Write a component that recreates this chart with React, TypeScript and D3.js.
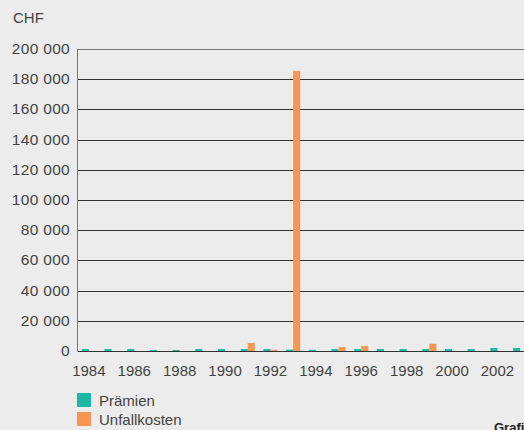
import React, { useEffect, useRef } from 'react';
import * as d3 from 'd3';

const years = [
  '1984', '1985', '1986', '1987', '1988', '1989', '1990', '1991', '1992', '1993',
  '1994', '1995', '1996', '1997', '1998', '1999', '2000', '2001', '2002', '2003',
];
const praemien = [
  1300, 1300, 1300, 700, 700, 1300, 1300, 1300, 1300, 900,
  800, 1300, 1300, 1300, 1300, 1300, 1300, 1300, 2000, 2000,
];
const unfallkosten = [
  0, 0, 0, 0, 0, 0, 0, 5300, 800, 185500,
  0, 2600, 3300, 0, 0, 4800, 0, 0, 0, 0,
];
const yTicks = [0, 20000, 40000, 60000, 80000, 100000, 120000, 140000, 160000, 180000, 200000];
const xLabels = ['1984', '1986', '1988', '1990', '1992', '1994', '1996', '1998', '2000', '2002'];
const seriesNames = ['Prämien', 'Unfallkosten'];

const width = 524;
const height = 430;
const teal = '#1bb8a8';
const orange = '#f79552';
const font = '"Liberation Sans", Arial, Helvetica, sans-serif';
const textColor = '#444';

const App = () => {
  const svgRef = useRef<SVGSVGElement | null>(null);

  useEffect(() => {
    const svg = d3.select(svgRef.current);
    svg.selectAll('*').remove();

    svg.append('rect').attr('width', width).attr('height', height).attr('fill', '#ebeceb');

    // scales
    const x = d3.scaleBand().domain(years).range([77.5, 77.5 + 20 * 22.7]).paddingInner(0.38).paddingOuter(0.19);
    const sub = d3.scaleBand().domain(seriesNames).range([0, x.bandwidth()]);
    const y = d3.scaleLinear().domain([0, 200000]).range([351, 49]);
    const fmt = (d: number) => d3.format(',')(d).replace(/,/g, ' ');

    // grid lines
    svg.append('g')
      .selectAll('line')
      .data(yTicks)
      .enter()
      .append('line')
      .attr('x1', 77.5)
      .attr('x2', width)
      .attr('y1', d => Math.round(y(d)) + 0.5)
      .attr('y2', d => Math.round(y(d)) + 0.5)
      .attr('stroke', d => (d === 200000 ? '#777' : '#333'))
      .attr('stroke-width', 1);

    // y axis line
    svg.append('line')
      .attr('x1', 77.5).attr('x2', 77.5)
      .attr('y1', y(200000)).attr('y2', y(0))
      .attr('stroke', '#777');

    // y tick labels
    svg.append('g')
      .selectAll('text')
      .data(yTicks)
      .enter()
      .append('text')
      .attr('x', 70)
      .attr('y', d => y(d) + 5)
      .attr('text-anchor', 'end')
      .attr('font-family', font)
      .attr('font-size', 15.5)
      .attr('letter-spacing', 0.3)
      .attr('fill', textColor)
      .text(d => fmt(d));

    // bars
    const groups = svg.append('g')
      .selectAll('g')
      .data(years)
      .enter()
      .append('g')
      .attr('transform', d => `translate(${x(d)},0)`);

    groups.append('rect')
      .attr('x', sub('Prämien') || 0)
      .attr('width', sub.bandwidth())
      .attr('y', (d, i) => y(praemien[i]))
      .attr('height', (d, i) => y(0) - y(praemien[i]))
      .attr('fill', teal);

    groups.append('rect')
      .attr('x', sub('Unfallkosten') || 0)
      .attr('width', sub.bandwidth())
      .attr('y', (d, i) => y(unfallkosten[i]))
      .attr('height', (d, i) => y(0) - y(unfallkosten[i]))
      .attr('fill', orange);

    // x labels
    svg.append('g')
      .selectAll('text')
      .data(xLabels)
      .enter()
      .append('text')
      .attr('x', d => (x(d) || 0) + x.bandwidth() / 2)
      .attr('y', 376)
      .attr('text-anchor', 'middle')
      .attr('font-family', font)
      .attr('font-size', 15)
      .attr('fill', textColor)
      .text(d => d);

    // unit
    svg.append('text')
      .attr('x', 13).attr('y', 23)
      .attr('font-family', font)
      .attr('font-size', 15)
      .attr('fill', textColor)
      .text('CHF');

    // legend
    const legend = svg.append('g')
      .selectAll('g')
      .data(seriesNames)
      .enter()
      .append('g')
      .attr('transform', (d, i) => `translate(77,${393 + i * 19})`);
    legend.append('rect').attr('width', 14).attr('height', 14).attr('fill', (d, i) => (i === 0 ? teal : orange));
    legend.append('text')
      .attr('x', 22).attr('y', 13)
      .attr('font-family', font)
      .attr('font-size', 15)
      .attr('fill', textColor)
      .text(d => d);

    // caption, cut off at the right/bottom edge as in the original
    svg.append('text')
      .attr('x', 494).attr('y', 432)
      .attr('font-family', font)
      .attr('font-size', 13)
      .attr('font-weight', 'bold')
      .attr('fill', '#222')
      .text('Grafik');
  }, []);

  return (
    <div style={{ position: 'fixed', left: 0, top: 0, width, height, overflow: 'hidden' }}>
      <svg ref={svgRef} width={width} height={height} style={{ display: 'block' }} />
    </div>
  );
};

export default App;
